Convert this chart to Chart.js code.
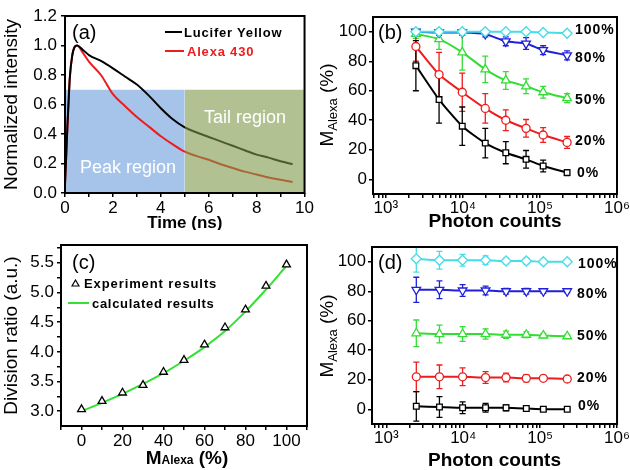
<!DOCTYPE html>
<html><head><meta charset="utf-8">
<script src="https://cdn.jsdelivr.net/npm/chart.js@4.4.1/dist/chart.umd.min.js"></script>
<style>
body{margin:0;background:#fff;width:630px;height:470px;position:relative;overflow:hidden;font-family:"Liberation Sans",Arial,sans-serif;color:#000;}
canvas{position:absolute;}
.lbl{position:absolute;white-space:nowrap;line-height:1;transform:translateY(-50%);}
.pct{position:absolute;white-space:nowrap;line-height:1;transform:translateY(-50%);font-weight:bold;font-size:14px;letter-spacing:1px;}
.vt{position:absolute;white-space:nowrap;line-height:1;transform:translate(-50%,-50%) rotate(-90deg);font-size:19px;}
.vt sub{font-size:13px;vertical-align:-4px;}
.swatch{position:absolute;height:2px;}
</style></head><body>
<canvas id="ca" width="315" height="230" style="left:0;top:0"></canvas>
<canvas id="cb" width="315" height="230" style="left:315px;top:0"></canvas>
<canvas id="cc" width="315" height="240" style="left:0;top:230px"></canvas>
<canvas id="cd" width="315" height="240" style="left:315px;top:230px"></canvas>

<!-- panel (a) annotations -->
<div class="lbl" style="left:72px;top:32px;font-size:20px;">(a)</div>
<div class="swatch" style="left:165px;top:31px;width:17px;background:#000"></div>
<div class="lbl" style="left:184px;top:32px;font-size:13px;font-weight:bold;letter-spacing:0.8px;">Lucifer Yellow</div>
<div class="swatch" style="left:165px;top:50px;width:19px;background:#ee1c1c"></div>
<div class="lbl" style="left:187px;top:51px;font-size:13px;font-weight:bold;letter-spacing:0.8px;color:#ee1c1c">Alexa 430</div>
<div class="lbl" style="left:80px;top:167px;font-size:18px;color:#fff">Peak region</div>
<div class="lbl" style="left:204px;top:117px;font-size:18px;color:#fff">Tail region</div>

<!-- panel (b) annotations -->
<div class="vt" style="left:328px;top:105px">M<sub>Alexa</sub> (%)</div>
<div class="lbl" style="left:378px;top:32px;font-size:20px;">(b)</div>
<div class="pct" style="left:575px;top:29px">100%</div>
<div class="pct" style="left:575px;top:57px">80%</div>
<div class="pct" style="left:575px;top:99px">50%</div>
<div class="pct" style="left:575px;top:140px">20%</div>
<div class="pct" style="left:577px;top:172px">0%</div>

<!-- panel (c) annotations -->
<div class="lbl" style="left:72px;top:262px;font-size:20px;">(c)</div>
<svg style="position:absolute;left:71px;top:279px" width="9" height="8"><polygon points="4.5,1 8,7 1,7" fill="#fff" stroke="#000" stroke-width="1.2"/></svg>
<div class="lbl" style="left:84px;top:283px;font-size:13px;font-weight:bold;letter-spacing:0.9px;">Experiment results</div>
<div class="swatch" style="left:68px;top:302px;width:21px;background:#33e033"></div>
<div class="lbl" style="left:92px;top:303px;font-size:13px;font-weight:bold;letter-spacing:0.7px;">calculated results</div>
<div class="lbl" style="left:187px;top:457px;transform:translate(-50%,-50%);font-size:19px;font-weight:bold;">M<span style="font-size:12px">Alexa</span> (%)</div>

<!-- panel (d) annotations -->
<div class="vt" style="left:328px;top:336px">M<sub>Alexa</sub> (%)</div>
<div class="lbl" style="left:378px;top:262px;font-size:20px;">(d)</div>
<div class="pct" style="left:578px;top:263px">100%</div>
<div class="pct" style="left:577px;top:293px">80%</div>
<div class="pct" style="left:577px;top:335px">50%</div>
<div class="pct" style="left:577px;top:377px">20%</div>
<div class="pct" style="left:578px;top:405px">0%</div>

<script>
// ---------------- DATA ----------------
// (a) fluorescence decays
const aTimeNs        = [0, 0.05, 0.1, 0.15, 0.2, 0.3, 0.4, 0.5, 0.75, 1, 1.5, 2, 2.5, 3, 3.5, 4, 4.5, 5, 5.5, 6, 6.5, 7, 7.5, 8, 8.5, 9, 9.5];
const aLuciferYellow = [0.06, 0.25, 0.45, 0.62, 0.78, 0.93, 0.99, 1.0, 0.97, 0.935, 0.895, 0.845, 0.79, 0.735, 0.66, 0.575, 0.5, 0.445, 0.41, 0.38, 0.35, 0.32, 0.29, 0.26, 0.24, 0.215, 0.195];
const aAlexa430      = [0.06, 0.25, 0.45, 0.62, 0.78, 0.93, 0.99, 1.0, 0.95, 0.89, 0.8, 0.67, 0.59, 0.515, 0.45, 0.385, 0.33, 0.28, 0.25, 0.225, 0.195, 0.17, 0.145, 0.125, 0.105, 0.09, 0.075];
const aPeakRegionX   = [0, 5];
const aTailRegionX   = [5, 10];
const aRegionTop     = 0.7;
const aXTicks        = [0,1,2,3,4,5,6,7,8,9,10];
const aXTickLabels   = ['0','','2','','4','','6','','8','','10'];
const aYTicks        = [0, 0.2, 0.4, 0.6, 0.8, 1.0, 1.2];
const aYTickLabels   = ['0.0','0.2','0.4','0.6','0.8','1.0','1.2'];

// (b) and (d) M_Alexa vs photon counts
const photonCounts = [2450, 4900, 9800, 19500, 36000, 66000, 110000, 225000];
const bM100  = [100, 100, 100, 100, 100, 100, 99.5, 99];
const bM100e = [1, 1, 1, 1, 1, 1, 1, 1];
const bM80   = [100, 99.5, 99.5, 98.5, 93.5, 92, 87.5, 84];
const bM80e  = [2, 2, 2, 2, 3, 4, 3, 3];
const bM50   = [98.5, 95, 86, 74.5, 67, 63, 59, 55];
const bM50e  = [3, 7, 12, 9, 6, 5, 4, 3];
const bM20   = [90, 71, 59, 48, 40, 34.5, 30, 25];
const bM20e  = [10, 15, 13, 10, 7, 6, 5, 4];
const bM0    = [77, 54, 36, 24.5, 18, 13.5, 9, 4.5];
const bM0e   = [17, 16, 13, 10, 7.5, 6, 4, 2];

const dM100  = [102, 101, 101, 101, 100.5, 100.5, 100, 100];
const dM100e = [9, 6, 4, 3, 2, 2, 1.5, 1];
const dM80   = [81, 81, 80.5, 80.5, 80, 80, 80, 80];
const dM80e  = [8.5, 6, 4, 3, 2, 2, 1.5, 1];
const dM50   = [51.5, 51, 51, 51, 50.5, 50.5, 50, 49.5];
const dM50e  = [9, 6, 5, 3.5, 2.5, 2, 1.5, 1];
const dM20   = [22, 22, 22, 21.5, 21.5, 21, 21, 20.5];
const dM20e  = [10, 8, 6, 4, 3, 2.5, 1.5, 1];
const dM0    = [2, 1.5, 1, 1, 1, 0.5, 0, 0];
const dM0e   = [10, 7, 4, 3, 2, 1.5, 1, 0.5];

const mYTicks      = [0, 20, 40, 60, 80, 100];
const logMajor     = [1e3, 1e4, 1e5, 1e6];
const logMajorLbl  = ['10\u00B3', '10\u2074', '10\u2075', '10\u2076'];

// (c) division ratio
const cMAlexa      = [0, 10, 20, 30, 40, 50, 60, 70, 80, 90, 100];
const cExperiment  = [3.03, 3.17, 3.31, 3.44, 3.66, 3.86, 4.12, 4.41, 4.71, 5.11, 5.47];
const cCalculated  = [3.0, 3.14, 3.29, 3.46, 3.64, 3.85, 4.08, 4.35, 4.68, 5.05, 5.45];
const cXTicks      = [-10, 0, 10, 20, 30, 40, 50, 60, 70, 80, 90, 100, 110];
const cXTickLabels = ['', '0', '', '20', '', '40', '', '60', '', '80', '', '100', ''];
const cYTicks      = [3.0, 3.25, 3.5, 3.75, 4.0, 4.25, 4.5, 4.75, 5.0, 5.25, 5.5, 5.75];
const cYTickLabels = ['3.0', '', '3.5', '', '4.0', '', '4.5', '', '5.0', '', '5.5', ''];

// ---------------- HELPERS ----------------
Chart.defaults.font.family = "'Liberation Sans', Arial, sans-serif";
Chart.defaults.color = '#000';
Chart.defaults.animation = false;

const pts = (xs, ys) => xs.map((x, i) => ({x, y: ys[i]}));

const framePlugin = {
  id: 'frame',
  afterDraw(chart) {
    const {ctx, chartArea: a} = chart;
    ctx.save(); ctx.strokeStyle = '#000'; ctx.lineWidth = 2;
    ctx.strokeRect(a.left, a.top, a.right - a.left, a.bottom - a.top);
    ctx.restore();
  }
};
const errorBarPlugin = {
  id: 'errorBars',
  beforeDatasetsDraw(chart) {
    const {ctx, chartArea: a} = chart;
    const xs = chart.scales.x, ys = chart.scales.y;
    ctx.save();
    ctx.beginPath(); ctx.rect(a.left, a.top, a.right - a.left, a.bottom - a.top); ctx.clip();
    chart.data.datasets.forEach(ds => {
      if (!ds.errors) return;
      ctx.strokeStyle = ds.borderColor; ctx.lineWidth = 1.3;
      ds.data.forEach((p, j) => {
        const e = ds.errors[j]; if (!e) return;
        const x = xs.getPixelForValue(p.x);
        const y1 = ys.getPixelForValue(p.y + e), y2 = ys.getPixelForValue(p.y - e);
        ctx.beginPath();
        ctx.moveTo(x, y1); ctx.lineTo(x, y2);
        ctx.moveTo(x - 3, y1); ctx.lineTo(x + 3, y1);
        ctx.moveTo(x - 3, y2); ctx.lineTo(x + 3, y2);
        ctx.stroke();
      });
    });
    ctx.restore();
  }
};
const gridOpts = {display: true, drawOnChartArea: false, drawTicks: true, tickLength: 4, color: '#000', lineWidth: 1.5};
function linAxis(min, max, ticks, labels, pad, extra) {
  return Object.assign({
    type: 'linear', min, max,
    afterBuildTicks: s => { s.ticks = ticks.map(v => ({value: v})); },
    ticks: {autoSkip: false, maxRotation: 0, font: {size: 17}, padding: pad,
            callback: (v, i) => labels[ticks.indexOf(v)] ?? ''},
    grid: gridOpts, border: {display: false}
  }, extra);
}
function logAxis(min, pad, extra) {
  const t = [];
  for (let d = 100; d < 1e6; d *= 10) for (let k = 1; k < 10; k++) { const v = d * k; if (v >= min) t.push(v); }
  t.push(1e6);
  return Object.assign({
    type: 'logarithmic', min, max: 1e6,
    afterBuildTicks: s => { s.ticks = t.map(v => ({value: v})); },
    ticks: {autoSkip: false, maxRotation: 0, font: {size: 17}, padding: pad,
            callback: v => { const i = logMajor.findIndex(m => Math.abs(m - v) < 1e-6 * m); return i >= 0 ? logMajorLbl[i] : ''; }},
    grid: gridOpts, border: {display: false}
  }, extra);
}
function series(xs, ys, errs, color, style, extra) {
  return Object.assign({
    data: pts(xs, ys), errors: errs, borderColor: color, borderWidth: 2,
    pointStyle: style, pointRadius: 4, pointBorderWidth: 1.3,
    pointBackgroundColor: '#fff', pointBorderColor: color, tension: 0.2
  }, extra);
}
const commonPlugins = {legend: {display: false}, tooltip: {enabled: false}};

// ---------------- (a) ----------------
new Chart(document.getElementById('ca'), {
  type: 'line',
  data: {datasets: [
    {data: aTailRegionX.map(x => ({x, y: aRegionTop})), fill: 'origin', backgroundColor: 'rgba(127,152,73,0.6)', borderWidth: 0, pointRadius: 0, order: 0},
    {data: pts(aTimeNs, aLuciferYellow), borderColor: '#000', borderWidth: 2, pointRadius: 0, cubicInterpolationMode: 'monotone', order: 1},
    {data: pts(aTimeNs, aAlexa430), borderColor: '#ee1c1c', borderWidth: 2, pointRadius: 0, cubicInterpolationMode: 'monotone', order: 1},
    {data: aPeakRegionX.map(x => ({x, y: aRegionTop})), fill: 'origin', backgroundColor: 'rgb(166,196,234)', borderWidth: 0, pointRadius: 0, order: 2}
  ]},
  options: {
    responsive: false, plugins: commonPlugins,
    layout: {padding: {left: 0, right: 10, top: 16, bottom: 0}},
    scales: {
      x: linAxis(0, 10, aXTicks, aXTickLabels, 1, {afterFit: s => { s.height = 37; },
          title: {display: true, text: 'Time (ns)', font: {size: 17, weight: 'bold'}, padding: {top: 0, bottom: -4}}}),
      y: linAxis(0, 1.2, aYTicks, aYTickLabels, 4, {afterFit: s => { s.width = 65; },
          title: {display: true, text: 'Normalized intensity', font: {size: 19}, padding: {top: 0, bottom: 0}}})
    }
  },
  plugins: [framePlugin]
});

// ---------------- (b) / (d) ----------------
function mChart(id, min, dsets, yW, xH, padR, titlePadB) {
  return new Chart(document.getElementById(id), {
    type: 'line',
    data: {datasets: dsets},
    options: {
      responsive: false, plugins: commonPlugins,
      layout: {padding: {left: 0, right: padR, top: 17, bottom: 0}},
      scales: {
        x: logAxis(min, 0, {afterFit: s => { s.height = xH; },
            title: {display: true, text: 'Photon counts', font: {size: 19, weight: 'bold'}, padding: {top: 0, bottom: titlePadB}}}),
        y: linAxis(-10, 110, mYTicks, mYTicks.map(String), 2, {afterFit: s => { s.width = yW; }})
      }
    },
    plugins: [errorBarPlugin, framePlugin]
  });
}
mChart('cb', 680, [
  series(photonCounts, bM100, bM100e, '#44dde8', 'rectRot', {pointRadius: 5}),
  series(photonCounts, bM80, bM80e, '#2020d8', 'triangle', {pointRotation: 180, pointRadius: 5}),
  series(photonCounts, bM50, bM50e, '#33dd33', 'triangle', {pointRadius: 5}),
  series(photonCounts, bM20, bM20e, '#ee1c1c', 'circle'),
  series(photonCounts, bM0, bM0e, '#000', 'rect')
], 58, 36, 13, -3);
mChart('cd', 650, [
  series(photonCounts, dM100, dM100e, '#44dde8', 'rectRot', {pointRadius: 5}),
  series(photonCounts, dM80, dM80e, '#2020d8', 'triangle', {pointRotation: 180, pointRadius: 5}),
  series(photonCounts, dM50, dM50e, '#33dd33', 'triangle', {pointRadius: 5}),
  series(photonCounts, dM20, dM20e, '#ee1c1c', 'circle'),
  series(photonCounts, dM0, dM0e, '#000', 'rect')
], 57, 46, 10, -2);

// ---------------- (c) ----------------
new Chart(document.getElementById('cc'), {
  type: 'line',
  data: {datasets: [
    {data: pts(cMAlexa, cExperiment), showLine: false, pointStyle: 'triangle', pointRadius: 4.5, pointBorderWidth: 1.3,
     pointBorderColor: '#000', pointBackgroundColor: '#fff', borderColor: '#000', order: 0},
    {data: pts(cMAlexa, cCalculated), borderColor: '#33e033', borderWidth: 2, pointRadius: 0, tension: 0.4, order: 1}
  ]},
  options: {
    responsive: false, plugins: commonPlugins,
    layout: {padding: {left: 0, right: 8, top: 15, bottom: 0}},
    scales: {
      x: linAxis(-10, 110, cXTicks, cXTickLabels, 1, {afterFit: s => { s.height = 44; }}),
      y: linAxis(2.75, 5.8, cYTicks, cYTickLabels, 3, {afterFit: s => { s.width = 61; },
          title: {display: true, text: 'Division ratio (a.u.)', font: {size: 19}, padding: {top: 0, bottom: 0}}})
    }
  },
  plugins: [framePlugin]
});
</script>
</body></html>
